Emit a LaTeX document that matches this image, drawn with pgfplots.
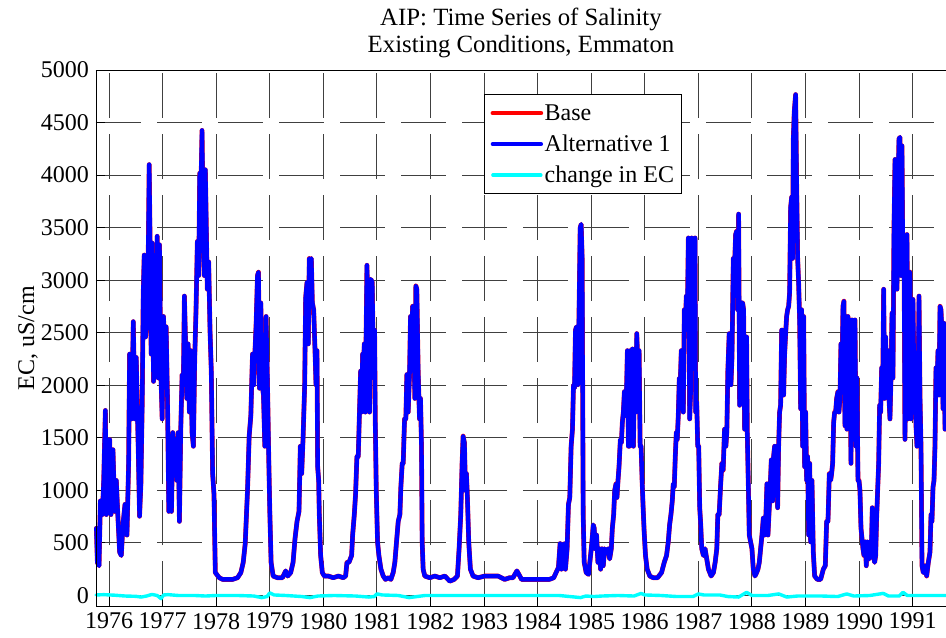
\documentclass[border=0pt]{standalone}
\usepackage{fontspec}
\setmainfont{Liberation Serif}
\usepackage{pgfplots}
\usepackage{pgfplotstable}
\pgfplotsset{compat=1.18}
\definecolor{mcyan}{RGB}{0,255,255}
\definecolor{mblue}{RGB}{0,0,255}
\definecolor{mred}{RGB}{255,0,0}

\pgfplotstableread{
t v
1975.764 640
1975.783 315
1975.814 283
1975.839 900
1975.876 770
1975.901 1095
1975.932 1761
1975.950 770
1975.981 1000
1976.012 1485
1976.037 770
1976.074 1387
1976.105 800
1976.136 1095
1976.167 737
1976.198 413
1976.229 380
1976.260 672
1976.298 867
1976.335 575
1976.366 1257
1976.384 2297
1976.422 1680
1976.453 2606
1976.484 1680
1976.508 2265
1976.546 1387
1976.570 754
1976.595 1063
1976.620 1842
1976.639 2882
1976.657 3239
1976.682 2460
1976.707 2622
1976.732 3239
1976.750 4100
1976.769 3239
1976.787 2297
1976.806 3353
1976.831 2037
1976.856 3109
1976.880 2492
1976.899 3418
1976.918 2070
1976.942 3337
1976.967 2135
1976.992 1680
1977.017 2655
1977.042 2232
1977.066 2557
1977.091 1875
1977.116 800
1977.141 1517
1977.166 800
1977.190 1550
1977.215 1192
1977.240 1485
1977.265 1095
1977.290 1550
1977.314 705
1977.339 1582
1977.364 2102
1977.389 2070
1977.407 2849
1977.426 2460
1977.451 1875
1977.476 2394
1977.500 1745
1977.525 2330
1977.550 1550
1977.575 1420
1977.600 2265
1977.624 2719
1977.649 3369
1977.674 3044
1977.693 4018
1977.711 3759
1977.736 4425
1977.761 3369
1977.779 3044
1977.798 4051
1977.816 3499
1977.835 2914
1977.860 3174
1977.885 2525
1977.909 2135
1977.934 1160
1977.959 965
1977.984 218
1978.009 201
1978.058 169
1978.120 153
1978.213 153
1978.306 153
1978.399 169
1978.461 218
1978.505 315
1978.542 494
1978.585 1000
1978.616 1517
1978.647 1712
1978.678 2297
1978.703 2005
1978.722 2297
1978.746 2590
1978.771 3044
1978.790 3077
1978.808 1972
1978.833 2784
1978.858 2005
1978.883 1907
1978.908 1420
1978.932 2655
1978.957 2037
1978.982 1290
1979.001 800
1979.025 315
1979.063 185
1979.143 169
1979.236 169
1979.298 234
1979.335 185
1979.391 218
1979.435 315
1979.472 543
1979.509 705
1979.546 800
1979.571 1420
1979.596 1160
1979.621 1485
1979.652 2005
1979.670 2833
1979.695 2979
1979.720 2394
1979.738 3207
1979.752 3174
1979.776 3207
1979.795 2784
1979.820 2719
1979.845 2330
1979.863 2005
1979.882 2330
1979.894 1225
1979.913 1095
1979.925 770
1979.950 380
1979.981 218
1980.019 185
1980.093 185
1980.186 169
1980.280 185
1980.373 169
1980.416 185
1980.441 315
1980.478 315
1980.528 380
1980.547 575
1980.578 770
1980.602 965
1980.627 1322
1980.652 1322
1980.671 1680
1980.696 2135
1980.714 1745
1980.733 2297
1980.752 2167
1980.764 2394
1980.783 1745
1980.801 2590
1980.814 3142
1980.839 2557
1980.863 1745
1980.888 3009
1980.913 2979
1980.938 2070
1980.957 2525
1980.969 1680
1980.988 1000
1981.012 510
1981.037 380
1981.075 250
1981.118 185
1981.161 153
1981.211 169
1981.261 153
1981.304 218
1981.335 315
1981.366 510
1981.398 705
1981.429 770
1981.447 1030
1981.472 1257
1981.491 1257
1981.516 1680
1981.540 1680
1981.559 2102
1981.584 1745
1981.609 2102
1981.627 2655
1981.646 2200
1981.665 2752
1981.683 2719
1981.708 1875
1981.727 2946
1981.745 2914
1981.770 2135
1981.795 1680
1981.814 1875
1981.832 1420
1981.845 510
1981.863 250
1981.894 185
1981.988 169
1982.081 185
1982.174 169
1982.267 185
1982.360 136
1982.441 153
1982.503 185
1982.534 445
1982.565 770
1982.590 1257
1982.609 1517
1982.634 1452
1982.652 1000
1982.671 1160
1982.689 932
1982.714 510
1982.745 250
1982.795 185
1982.888 169
1983.012 185
1983.137 185
1983.261 185
1983.385 153
1983.478 169
1983.540 169
1983.613 234
1983.650 201
1983.700 153
1983.781 153
1983.875 153
1984.000 153
1984.125 153
1984.219 153
1984.300 169
1984.344 218
1984.388 266
1984.419 494
1984.444 250
1984.469 478
1984.500 494
1984.519 250
1984.550 445
1984.575 867
1984.600 932
1984.625 1420
1984.650 1582
1984.669 2005
1984.688 1972
1984.706 2525
1984.725 2557
1984.750 2005
1984.769 2557
1984.794 3499
1984.813 3532
1984.831 3207
1984.850 770
1984.869 315
1984.906 218
1984.950 201
1984.988 380
1985.013 510
1985.038 672
1985.056 640
1985.075 445
1985.100 575
1985.125 315
1985.150 445
1985.175 250
1985.200 445
1985.225 283
1985.250 445
1985.281 413
1985.313 445
1985.344 348
1985.375 445
1985.394 640
1985.419 770
1985.438 1000
1985.463 1063
1985.481 932
1985.500 1095
1985.519 1225
1985.544 1485
1985.563 1452
1985.581 1647
1985.600 1745
1985.619 1940
1985.638 1712
1985.656 1875
1985.675 2330
1985.694 1420
1985.713 1420
1985.731 2330
1985.750 1452
1985.769 2346
1985.788 1420
1985.813 2330
1985.831 1745
1985.850 2492
1985.875 2135
1985.894 2330
1985.913 1420
1985.931 1420
1985.950 1095
1985.969 835
1985.988 608
1986.013 380
1986.044 250
1986.094 185
1986.156 169
1986.238 169
1986.313 218
1986.363 315
1986.406 380
1986.438 510
1986.463 672
1986.488 770
1986.513 900
1986.531 1063
1986.550 1030
1986.569 1322
1986.588 1550
1986.606 1485
1986.625 1712
1986.644 2070
1986.663 2037
1986.681 2330
1986.700 1875
1986.719 1745
1986.738 2719
1986.756 2525
1986.775 2849
1986.794 2655
1986.813 3402
1986.838 1680
1986.856 1940
1986.875 3402
1986.900 2719
1986.919 2557
1986.938 3402
1986.950 1745
1986.969 1842
1986.988 1420
1987.006 1420
1987.025 835
1987.044 672
1987.063 445
1987.094 380
1987.125 445
1987.156 348
1987.188 250
1987.238 185
1987.281 218
1987.313 315
1987.344 445
1987.363 770
1987.388 770
1987.413 1030
1987.438 1257
1987.463 1192
1987.488 1582
1987.513 1420
1987.531 1550
1987.550 2135
1987.575 2492
1987.608 2005
1987.627 2265
1987.652 3207
1987.670 3044
1987.695 3434
1987.714 3467
1987.732 2719
1987.751 3629
1987.770 1810
1987.788 2070
1987.807 2784
1987.826 2784
1987.844 2719
1987.863 1582
1987.882 2297
1987.900 2460
1987.913 1550
1987.932 1063
1987.950 575
1987.975 510
1988.000 445
1988.025 250
1988.056 185
1988.087 218
1988.112 250
1988.137 315
1988.162 445
1988.187 575
1988.212 737
1988.236 575
1988.261 770
1988.280 1063
1988.299 575
1988.317 770
1988.336 965
1988.361 1290
1988.386 900
1988.404 1322
1988.423 1420
1988.442 1127
1988.460 1420
1988.479 835
1988.498 1420
1988.516 1745
1988.535 1810
1988.554 2525
1988.572 2525
1988.591 1907
1988.610 2297
1988.629 2492
1988.647 2655
1988.666 2719
1988.685 2752
1988.703 2882
1988.722 3694
1988.741 3791
1988.759 3207
1988.772 4344
1988.790 4604
1988.815 4766
1988.834 3921
1988.853 3207
1988.871 2979
1988.890 2622
1988.909 1777
1988.927 2719
1988.946 1420
1988.965 2655
1988.983 1225
1989.002 1745
1989.021 1095
1989.039 1322
1989.058 575
1989.077 1257
1989.095 510
1989.120 1095
1989.145 413
1989.170 185
1989.220 153
1989.282 153
1989.332 250
1989.369 283
1989.394 705
1989.419 705
1989.444 1160
1989.469 1095
1989.487 1160
1989.506 1257
1989.525 1647
1989.543 1745
1989.562 1745
1989.581 1875
1989.605 1940
1989.624 1745
1989.643 1875
1989.661 2394
1989.680 2070
1989.699 2752
1989.717 2801
1989.736 1615
1989.755 2655
1989.773 1582
1989.792 2655
1989.811 1745
1989.829 2622
1989.848 1257
1989.867 2622
1989.886 2070
1989.904 1485
1989.923 2622
1989.942 1420
1989.960 2070
1989.979 1095
1989.998 1095
1990.016 1000
1990.035 640
1990.054 543
1990.072 445
1990.091 380
1990.116 510
1990.134 283
1990.153 510
1990.172 380
1990.190 348
1990.209 510
1990.228 413
1990.246 835
1990.265 380
1990.290 315
1990.309 380
1990.327 737
1990.346 1000
1990.365 1257
1990.383 1810
1990.402 1745
1990.421 2167
1990.439 1875
1990.458 2914
1990.477 1875
1990.495 2460
1990.514 2005
1990.539 2330
1990.558 1875
1990.576 1680
1990.595 2070
1990.614 2687
1990.632 2070
1990.651 3499
1990.670 4149
1990.688 3532
1990.707 2914
1990.726 3856
1990.744 4344
1990.763 4360
1990.782 3044
1990.800 4279
1990.819 3044
1990.838 3369
1990.856 1485
1990.875 2394
1990.894 3434
1990.912 1680
1990.931 3044
1990.950 3077
1990.968 1680
1990.987 2232
1991.006 2817
1991.024 2070
1991.043 2135
1991.062 1615
1991.080 1420
1991.099 1907
1991.118 2849
1991.136 1907
1991.155 1420
1991.174 283
1991.198 218
1991.230 283
1991.261 185
1991.292 315
1991.323 413
1991.342 770
1991.360 705
1991.379 1030
1991.398 1095
1991.416 1420
1991.435 2167
1991.454 1972
1991.472 2330
1991.491 1907
1991.510 2752
1991.528 2719
1991.547 2492
1991.566 1777
1991.584 2590
1991.603 1582
1991.622 2525
1991.640 1700
}\ecdata

\pgfplotstableread{
t v
1975.760 5
1975.900 8
1976.100 3
1976.300 -5
1976.500 -8
1976.600 -15
1976.700 -5
1976.800 10
1976.900 0
1976.970 -30
1977.020 5
1977.100 8
1977.300 0
1977.600 0
1977.800 -5
1978.000 0
1978.400 0
1978.700 -5
1978.850 -20
1978.950 -10
1979.000 25
1979.080 5
1979.300 0
1979.600 -10
1979.750 -20
1979.900 -5
1980.200 0
1980.600 -5
1980.850 -15
1980.950 -10
1981.000 15
1981.100 5
1981.400 0
1981.600 -20
1981.750 -10
1981.900 0
1982.500 0
1983.000 0
1983.600 0
1984.000 0
1984.400 0
1984.700 -15
1984.800 -20
1984.900 -5
1985.050 -10
1985.200 -5
1985.500 0
1985.800 -5
1985.930 20
1986.000 5
1986.300 0
1986.600 -10
1986.900 -10
1987.000 15
1987.100 5
1987.400 5
1987.550 -10
1987.750 -15
1987.900 30
1988.000 0
1988.300 0
1988.500 15
1988.650 -15
1988.850 -5
1989.000 -5
1989.300 -5
1989.600 -10
1989.770 15
1989.900 -5
1990.200 0
1990.450 20
1990.550 -5
1990.750 -5
1990.820 30
1990.900 0
1991.300 0
1991.640 0
}\decdata

\begin{document}
\begin{tikzpicture}
\begin{axis}[
  scale only axis,
  width=425pt, height=268pt,
  xmin=1975.757, xmax=1991.622,
  ymin=-100, ymax=5000,
  xtick={1976,1977,...,1991},
  ytick={0,500,...,5000},
  xtick pos=bottom, ytick pos=left,
  tick align=inside,
  major tick length=4.5pt,
  tick style={black, line width=0.5pt},
  axis line style={draw=none},
  grid=major,
  major grid style={black!75, line width=0.5pt, dash pattern=on 22.5pt off 8pt},
  /pgf/number format/assume math mode=true,
  /pgf/number format/1000 sep={},
  tick label style={font=\fontsize{12}{14}\selectfont},
  ylabel={EC, uS/cm},
  ylabel style={font=\fontsize{12}{14}\selectfont, at={(axis description cs:-0.08,0.5)}, anchor=center},
  title={AIP: Time Series of Salinity\\Existing Conditions, Emmaton},
  title style={font=\fontsize{12.4}{13.5}\selectfont, align=center, at={(0.5,1)}, anchor=south, yshift=-3.6pt},
  legend style={at={(0.4565,0.955)}, anchor=north west, draw=black, line width=0.5pt, fill=white,
    inner xsep=3pt, inner ysep=1.5pt, row sep=0pt,
    font=\fontsize{12}{14}\selectfont,
    nodes={inner sep=0.75pt, text height=10.5pt, text depth=3.5pt}},
  legend cell align=left,
  legend image code/.code={\draw[#1] (0pt,0pt) -- (24pt,0pt);},
  clip=false,
]
\addplot[mred, line width=2.35pt, line join=round, line cap=round] table[x=t, y=v] {\ecdata};
\addlegendentry{Base}
\addplot[mblue, line width=2.2pt, line join=round, line cap=round] table[x=t, y=v] {\ecdata};
\addlegendentry{Alternative 1}
\addplot[mcyan, line width=1.7pt, line join=round, line cap=round] table[x=t, y=v] {\decdata};
\addlegendentry{change in EC}
\end{axis}
\draw[black, line width=0.5pt] (current axis.south east) -- (current axis.south west) -- (current axis.north west) -- (current axis.north east);
\pgfresetboundingbox
\useasboundingbox ([shift={(-48pt,-15.5pt)}]current axis.south west) rectangle ([shift={(0pt,35pt)}]current axis.north east);
\end{tikzpicture}
\end{document}
